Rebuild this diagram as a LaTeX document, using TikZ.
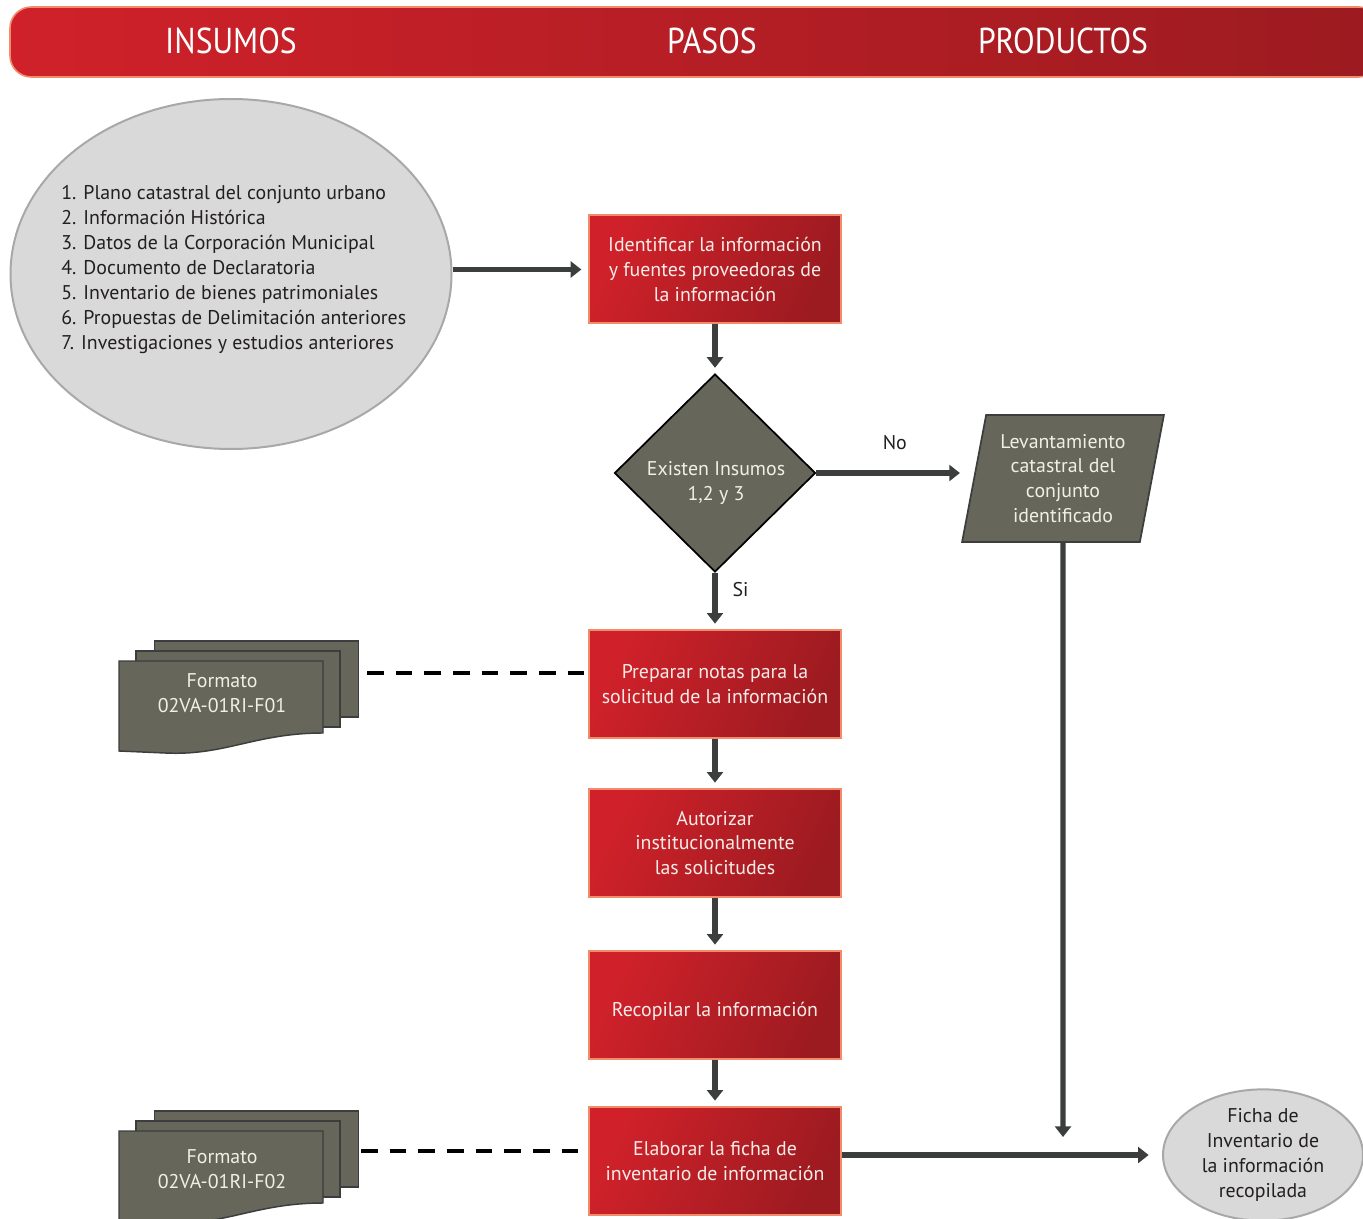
\documentclass[tikz,border=0pt]{standalone}
\usepackage{fontspec}
\setmainfont{PT Sans}
\newfontfamily\hdrfont[FakeStretch=0.88]{PT Sans}
\usetikzlibrary{shapes.geometric,arrows.meta,calc}

\definecolor{redA}{HTML}{D0212A}
\definecolor{redB}{HTML}{9C1B20}
\definecolor{salmon}{HTML}{F28A6C}
\definecolor{olive}{HTML}{67665A}
\definecolor{darkline}{HTML}{3B3E3D}
\definecolor{lightgray}{HTML}{D9D9D9}
\definecolor{midgray}{HTML}{A8A8A8}
\definecolor{boxtext}{HTML}{F7ECE8}
\definecolor{olivetext}{HTML}{F0F0E4}
\definecolor{labeltext}{HTML}{231F20}

\newcommand{\bodyfont}{\fontsize{14.9pt}{18.7pt}\selectfont}

\tikzset{
  stepbox/.style={rectangle, draw=salmon, line width=1.5pt,
    left color=redA, right color=redB, shading angle=65,
    minimum width=189pt, minimum height=81pt, inner sep=2pt,
    align=center, text=boxtext, font=\bodyfont},
  flow/.style={draw=darkline, line width=3.8pt,
    -{Triangle[length=8pt,width=12pt]}},
  dashlink/.style={draw=black, line width=2.4pt, dash pattern=on 12.5pt off 9pt},
  sheet/.style={rectangle, draw=darkline, line width=1.1pt, fill=olive,
    minimum width=153pt, minimum height=57pt, inner sep=0pt},
  frontsheet/.style={draw=darkline, line width=1.1pt, fill=olive},
  oliveText/.style={text=olivetext, font=\bodyfont, align=center},
  labelText/.style={text=labeltext, font=\bodyfont},
  hdrText/.style={text=white, font=\hdrfont\fontsize{27pt}{30pt}\selectfont},
}

\begin{document}
\begin{tikzpicture}[x=0.75pt,y=-0.75pt]
\useasboundingbox (0,0) rectangle (1363,1219);

% header band
\shade[left color=redA, right color=redB, draw=salmon, line width=1.2pt,
       rounded corners=16pt]
  (1380,7) -- (10,7) -- (10,77) -- (1380,77) -- cycle;
\node[hdrText] (hin)  at (231,41) {INSUMOS};
\node[hdrText] (hpa)  at (712,41) {PASOS};
\node[hdrText] (hpr)  at (1063,41) {PRODUCTOS};

% list of inputs
\node[ellipse, draw=midgray, line width=1.5pt, fill=lightgray,
      minimum width=330.75pt, minimum height=262.5pt] (insumos) at (231,274) {};
\node[labelText, align=left, anchor=north west, inner sep=0pt] (lista) at (61,185.5)
 {1. Plano catastral del conjunto urbano\\
  2. Información Histórica\\
  3. Datos de la Corporación Municipal\\
  4. Documento de Declaratoria\\
  5. Inventario de bienes patrimoniales\\
  6. Propuestas de Delimitación anteriores\\
  7. Investigaciones y estudios anteriores};

% process steps
\node[stepbox] (s1) at (715,269.5) {Identificar la información\\y fuentes proveedoras de\\la información};
\node[diamond, draw=black, line width=1.3pt, fill=olive, aspect=1,
      minimum width=150.75pt, minimum height=148.5pt, inner sep=0pt] (dec) at (715,473) {};
\node[oliveText] (dectext) at (716,483) {Existen Insumos\\1,2 y 3};
\node[stepbox] (s2) at (715,684) {Preparar notas para la\\solicitud de la información};
\node[stepbox] (s3) at (715,843) {Autorizar\\institucionalmente\\las solicitudes};
\node[stepbox] (s4) at (715,1005) {\raisebox{-4.5pt}[\height][\depth]{Recopilar la información}};
\node[stepbox] (s5) at (715,1161) {Elaborar la ficha de\\inventario de información};

% products
\node[trapezium, trapezium left angle=77.6, trapezium right angle=102.4,
      trapezium stretches=true, draw=darkline, line width=1.3pt, fill=olive,
      minimum width=151.5pt, minimum height=95.25pt, inner sep=0pt,
      oliveText] (lev) at (1063,478.5) {Levantamiento\\catastral del\\conjunto\\identificado};
\node[ellipse, draw=midgray, line width=1.5pt, fill=lightgray,
      minimum width=150pt, minimum height=97.5pt, inner sep=0pt,
      labelText, align=center] (ficha) at (1263,1155)
      {Ficha de\\Inventario de\\la información\\recopilada};

% document stacks (formats)
\node[sheet] (f1c) at (256.5,679) {};
\node[sheet] (f1b) at (238,689) {};
\draw[frontsheet] (119,661) -- (323,661) -- (323,733)
  .. controls (255,733) and (225,756) .. (165,753) -- (119,751) -- cycle;
\node[oliveText] (f1) at (222,693) {Formato\\02VA-01RI-F01};

\node[sheet] (f2c) at (256.5,1149) {};
\node[sheet] (f2b) at (238,1159) {};
\draw[frontsheet] (119,1131) -- (323,1131) -- (323,1203)
  .. controls (255,1203) and (225,1226) .. (165,1223) -- (119,1221) -- cycle;
\node[oliveText] (f2) at (222,1169) {Formato\\02VA-01RI-F02};

% connectors
\coordinate (d1) at (367,673);
\coordinate (d2) at (361,1151);
\coordinate (levend) at (1063,1137);

\draw[flow, shorten >=5pt] (insumos.east |- s1.west) -- (s1.west);
\draw[flow, shorten >=4pt] (s1.south) -- (dec.north);
\draw[flow, shorten >=10pt] (dec.east) -- (lev.west |- dec.east)
  node[labelText, midway, above=12pt] (no) {No};
\draw[flow, shorten >=4pt] (dec.south) -- (s2.north)
  node[labelText, pos=0.3, right=8pt] (si) {Si};
\draw[flow, shorten >=4pt] (s2.south) -- (s3.north);
\draw[flow, shorten >=4pt] (s3.south) -- (s4.north);
\draw[flow, shorten >=4pt] (s4.south) -- (s5.north);
\draw[flow] (lev.south) -- (levend);
\draw[flow, shorten >=10pt] (s5.east |- ficha.west) -- (ficha.west);

\draw[dashlink] (d1) -- (s2.west |- d1);
\draw[dashlink] (d2) -- (s5.west |- d2);
\end{tikzpicture}
\end{document}
